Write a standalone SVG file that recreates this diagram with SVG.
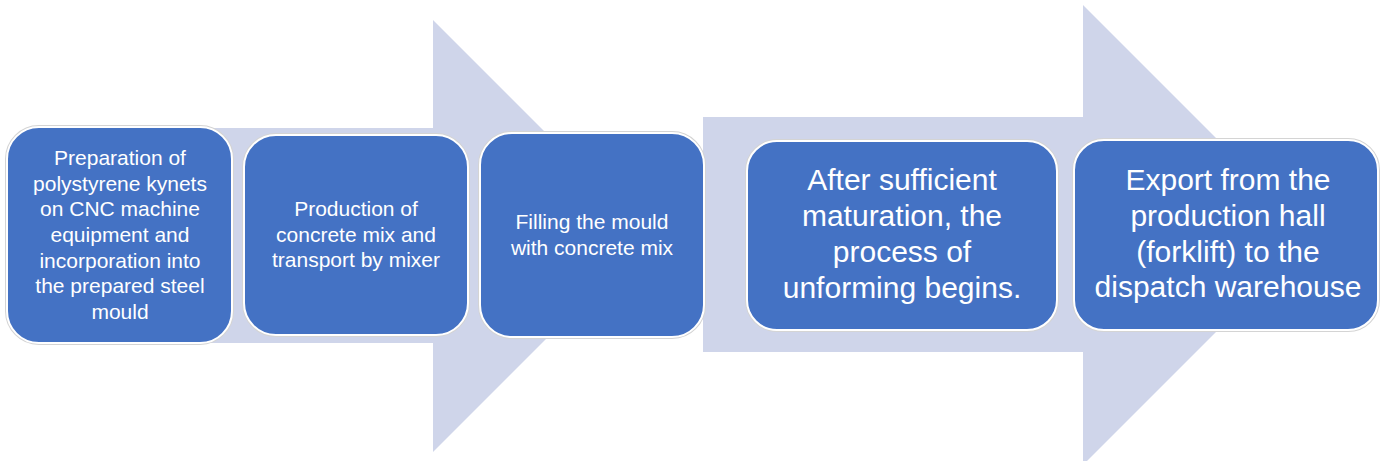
<svg xmlns="http://www.w3.org/2000/svg" width="1380" height="461" viewBox="0 0 1380 461">
<style>
.arrow{fill:#CFD5EA;stroke:none}
.halo{fill:none;stroke:#D4D4D4;stroke-width:4}
.box{fill:#4472C4;stroke:#FFFFFF;stroke-width:2}
.t{font-family:"Liberation Sans",Arial,sans-serif;fill:#FFFFFF;text-anchor:middle}
.s{font-size:21px}
.l{font-size:30px}
</style>
<rect width="1380" height="461" fill="#FFFFFF"/>
<g id="connectors">
<polygon class="arrow" points="120,128 433,128 433,20 649,236 433,452 433,343 120,343"/>
<polygon class="arrow" points="703,117 1083,117 1083,5 1313,235 1083,465 1083,352 703,352"/>
</g>
<g id="node1">
<rect class="halo" x="7" y="127" width="225" height="216" rx="32"/>
<rect class="box" x="7" y="127" width="225" height="216" rx="32"/>
<text class="t s" x="120" y="165">Preparation of</text>
<text class="t s" x="120" y="191">polystyrene kynets</text>
<text class="t s" x="120" y="216">on CNC machine</text>
<text class="t s" x="120" y="242">equipment and</text>
<text class="t s" x="120" y="268">incorporation into</text>
<text class="t s" x="120" y="293">the prepared steel</text>
<text class="t s" x="120" y="319">mould</text>
</g>
<g id="node2">
<rect class="halo" x="244" y="135" width="224" height="200" rx="32"/>
<rect class="box" x="244" y="135" width="224" height="200" rx="32"/>
<text class="t s" x="356" y="216">Production of</text>
<text class="t s" x="356" y="242">concrete mix and</text>
<text class="t s" x="356" y="267">transport by mixer</text>
</g>
<g id="node3">
<rect class="halo" x="480" y="133" width="224" height="204" rx="32"/>
<rect class="box" x="480" y="133" width="224" height="204" rx="32"/>
<text class="t s" x="592" y="229">Filling the mould</text>
<text class="t s" x="592" y="255">with concrete mix</text>
</g>
<g id="node4">
<rect class="halo" x="747" y="141" width="310" height="189" rx="30"/>
<rect class="box" x="747" y="141" width="310" height="189" rx="30"/>
<text class="t l" x="902" y="190">After sufficient</text>
<text class="t l" x="902" y="226">maturation, the</text>
<text class="t l" x="902" y="262">process of</text>
<text class="t l" x="902" y="298">unforming begins.</text>
</g>
<g id="node5">
<rect class="halo" x="1074" y="140" width="304" height="190" rx="30"/>
<rect class="box" x="1074" y="140" width="304" height="190" rx="30"/>
<text class="t l" x="1228" y="190">Export from the</text>
<text class="t l" x="1228" y="226">production hall</text>
<text class="t l" x="1228" y="262">(forklift) to the</text>
<text class="t l" x="1228" y="297">dispatch warehouse</text>
</g>
</svg>
